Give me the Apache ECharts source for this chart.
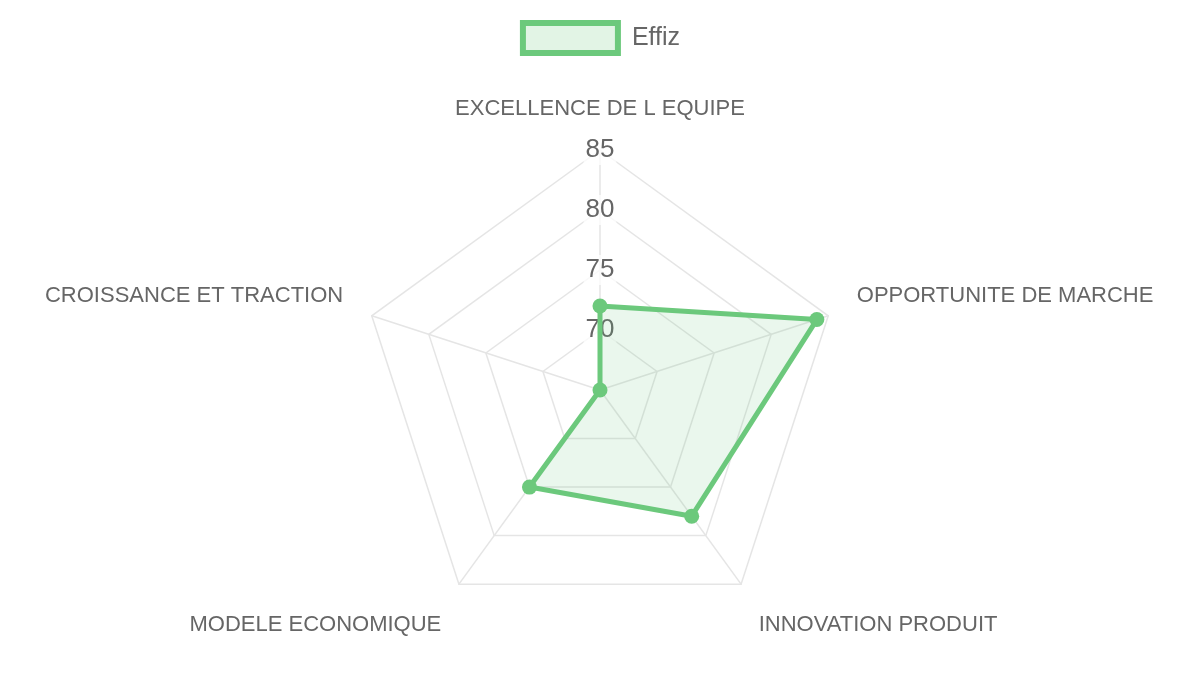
<!DOCTYPE html>
<html>
<head>
<meta charset="utf-8">
<script src="https://cdn.jsdelivr.net/npm/echarts@6/dist/echarts.min.js"></script>
<style>
html,body{margin:0;padding:0;background:#fff;}
#chart{width:1200px;height:675px;}
</style>
</head>
<body>
<div id="chart"></div>
<script>
// Data (reference order, clockwise from top)
const categories = ['EXCELLENCE DE L EQUIPE', 'OPPORTUNITE DE MARCHE', 'INNOVATION PRODUIT', 'MODELE ECONOMIQUE', 'CROISSANCE ET TRACTION'];
const effizValues = [72, 84, 78, 75, 65];
const seriesName = 'Effiz';
const scaleMin = 65;
const scaleMax = 85;
const scaleStep = 5;

const green = '#6cc97c';
const greenFill = 'rgba(108,201,124,0.2)';
const font = 'Liberation Sans, Arial, sans-serif';

// ECharts draws radar indicators counter-clockwise; reorder to match clockwise layout
const order = [0, 4, 3, 2, 1];
const indicators = order.map(i => ({ name: categories[i], min: scaleMin, max: scaleMax }));
const values = order.map(i => effizValues[i]);
const shiftUp = { 'OPPORTUNITE DE MARCHE': 1, 'CROISSANCE ET TRACTION': 1 };
const shiftDown = { 'INNOVATION PRODUIT': 1, 'MODELE ECONOMIQUE': 1 };

const chart = echarts.init(document.getElementById('chart'));
chart.setOption({
  animation: false,
  backgroundColor: '#fff',
  legend: {
    top: 20,
    left: 'center',
    padding: 0,
    icon: 'rect',
    itemWidth: 95,
    itemHeight: 30,
    itemStyle: { color: greenFill, borderColor: green, borderWidth: 6 },
    textStyle: { fontSize: 25, color: '#666', fontFamily: font, padding: [0, 0, 0, 9] },
    data: [seriesName]
  },
  radar: {
    z: 0,
    center: [600, 390],
    radius: 240,
    startAngle: 90,
    splitNumber: 4,
    shape: 'polygon',
    indicator: indicators,
    nameGap: 30,
    axisName: {
      color: '#666',
      fontSize: 22,
      fontFamily: font,
      formatter: function (name) {
        if (shiftUp[name]) return '{u|' + name + '}';
        if (shiftDown[name]) return '{d|' + name + '}';
        return name;
      },
      rich: {
        u: { color: '#666', fontSize: 22, fontFamily: font, padding: [0, 0, 21, 0] },
        d: { color: '#666', fontSize: 22, fontFamily: font, padding: [34, 0, 0, 0] }
      }
    },
    splitArea: { show: false },
    splitLine: { lineStyle: { color: '#e5e5e5', width: 1.5 } },
    axisLine: { lineStyle: { color: '#e5e5e5', width: 1.5 } },
    axisLabel: { show: false },
    axisTick: { show: false }
  },
  polar: { center: [600, 390], radius: 240 },
  angleAxis: { type: 'value', startAngle: 90, show: false, min: 0, max: 360 },
  radiusAxis: {
    type: 'value',
    z: 1,
    min: scaleMin,
    max: scaleMax,
    interval: scaleStep,
    axisLine: { show: false },
    axisTick: { show: false },
    splitLine: { show: false },
    axisLabel: {
      showMinLabel: false,
      margin: 0,
      align: 'center',
      verticalAlign: 'middle',
      fontSize: 26,
      color: '#666',
      fontFamily: font,
      backgroundColor: 'rgba(255,255,255,0.75)',
      padding: [2, 2]
    }
  },
  series: [{
    type: 'radar',
    z: 2,
    name: seriesName,
    symbol: 'circle',
    symbolSize: 15,
    lineStyle: { color: green, width: 5 },
    itemStyle: { color: green },
    areaStyle: { color: greenFill },
    data: [{ value: values, name: seriesName }]
  }]
});
</script>
</body>
</html>
